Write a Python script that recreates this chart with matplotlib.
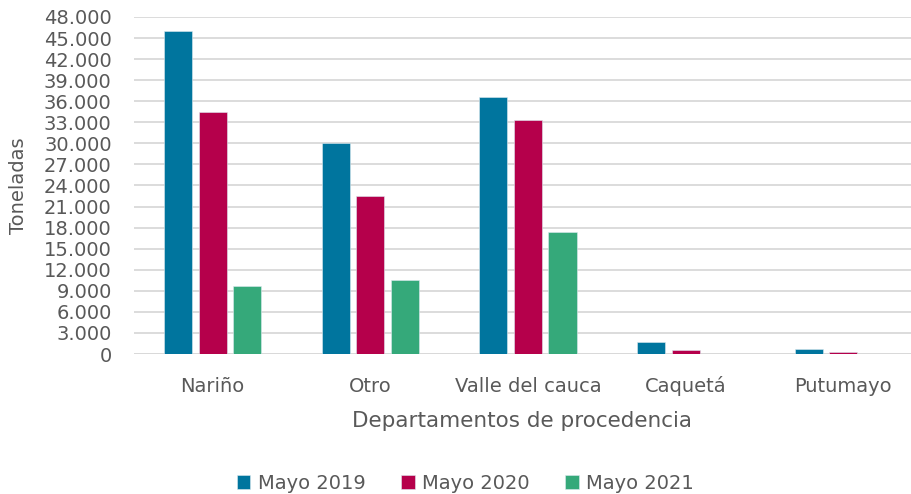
import numpy as np
import matplotlib.pyplot as plt
from matplotlib.ticker import FuncFormatter, MultipleLocator

# Data
departamentos = ["Nariño", "Otro", "Valle del cauca", "Caquetá", "Putumayo"]
mayo_2019 = [46050, 30050, 36560, 1750, 760]
mayo_2020 = [34470, 22500, 33330, 570, 280]
mayo_2021 = [9730, 10540, 17420, 0, 0]
series_labels = ["Mayo 2019", "Mayo 2020", "Mayo 2021"]
colors = ["#00759E", "#B5004B", "#35A97A"]

plt.rcParams['font.family'] = ['DejaVu Sans']
text_color = "#595959"

fig = plt.figure(figsize=(9.11, 4.94), dpi=100)
ax = fig.add_axes([0.147, 0.2834, 0.853, 0.6822])

x = np.arange(len(departamentos))
width = 0.178
step = 0.219
for i, (vals, lab, col) in enumerate(zip([mayo_2019, mayo_2020, mayo_2021],
                                         series_labels, colors)):
    ax.bar(x + (i - 1) * step, vals, width, color=col, label=lab,
           edgecolor="#DDEAF0", linewidth=0.4, zorder=3)

ax.set_ylim(0, 48000)
ax.set_xlim(-0.5, 4.43)
ax.yaxis.set_major_locator(MultipleLocator(3000))
ax.yaxis.set_major_formatter(FuncFormatter(lambda v, p: f"{int(v):,}".replace(",", ".")))
ax.grid(axis="y", color="#D9D9D9", linewidth=1.3, zorder=0)
for s in ["top", "right", "left", "bottom"]:
    ax.spines[s].set_visible(False)
ax.axhline(0, color="#D9D9D9", linewidth=1.3, zorder=1)

ax.set_xticks(x)
ax.set_xticklabels(departamentos, va="baseline")
ax.tick_params(axis="both", length=0, labelsize=14, colors=text_color)
ax.tick_params(axis="y", pad=16)
ax.tick_params(axis="x", pad=27)

ax.set_ylabel("Toneladas", fontsize=14, color=text_color)
ax.yaxis.set_label_coords(-0.136, 0.5)
ax.set_xlabel("Departamentos de procedencia", fontsize=15.5, color=text_color)
ax.xaxis.set_label_coords(0.5, -0.17)

fig.legend(loc="center", bbox_to_anchor=(0.511, 0.022), ncol=3, frameon=False,
           fontsize=14, labelcolor=text_color, handlelength=0.7, handleheight=0.7,
           columnspacing=1.8, handletextpad=0.4)

fig.savefig("out.png", dpi=100)
